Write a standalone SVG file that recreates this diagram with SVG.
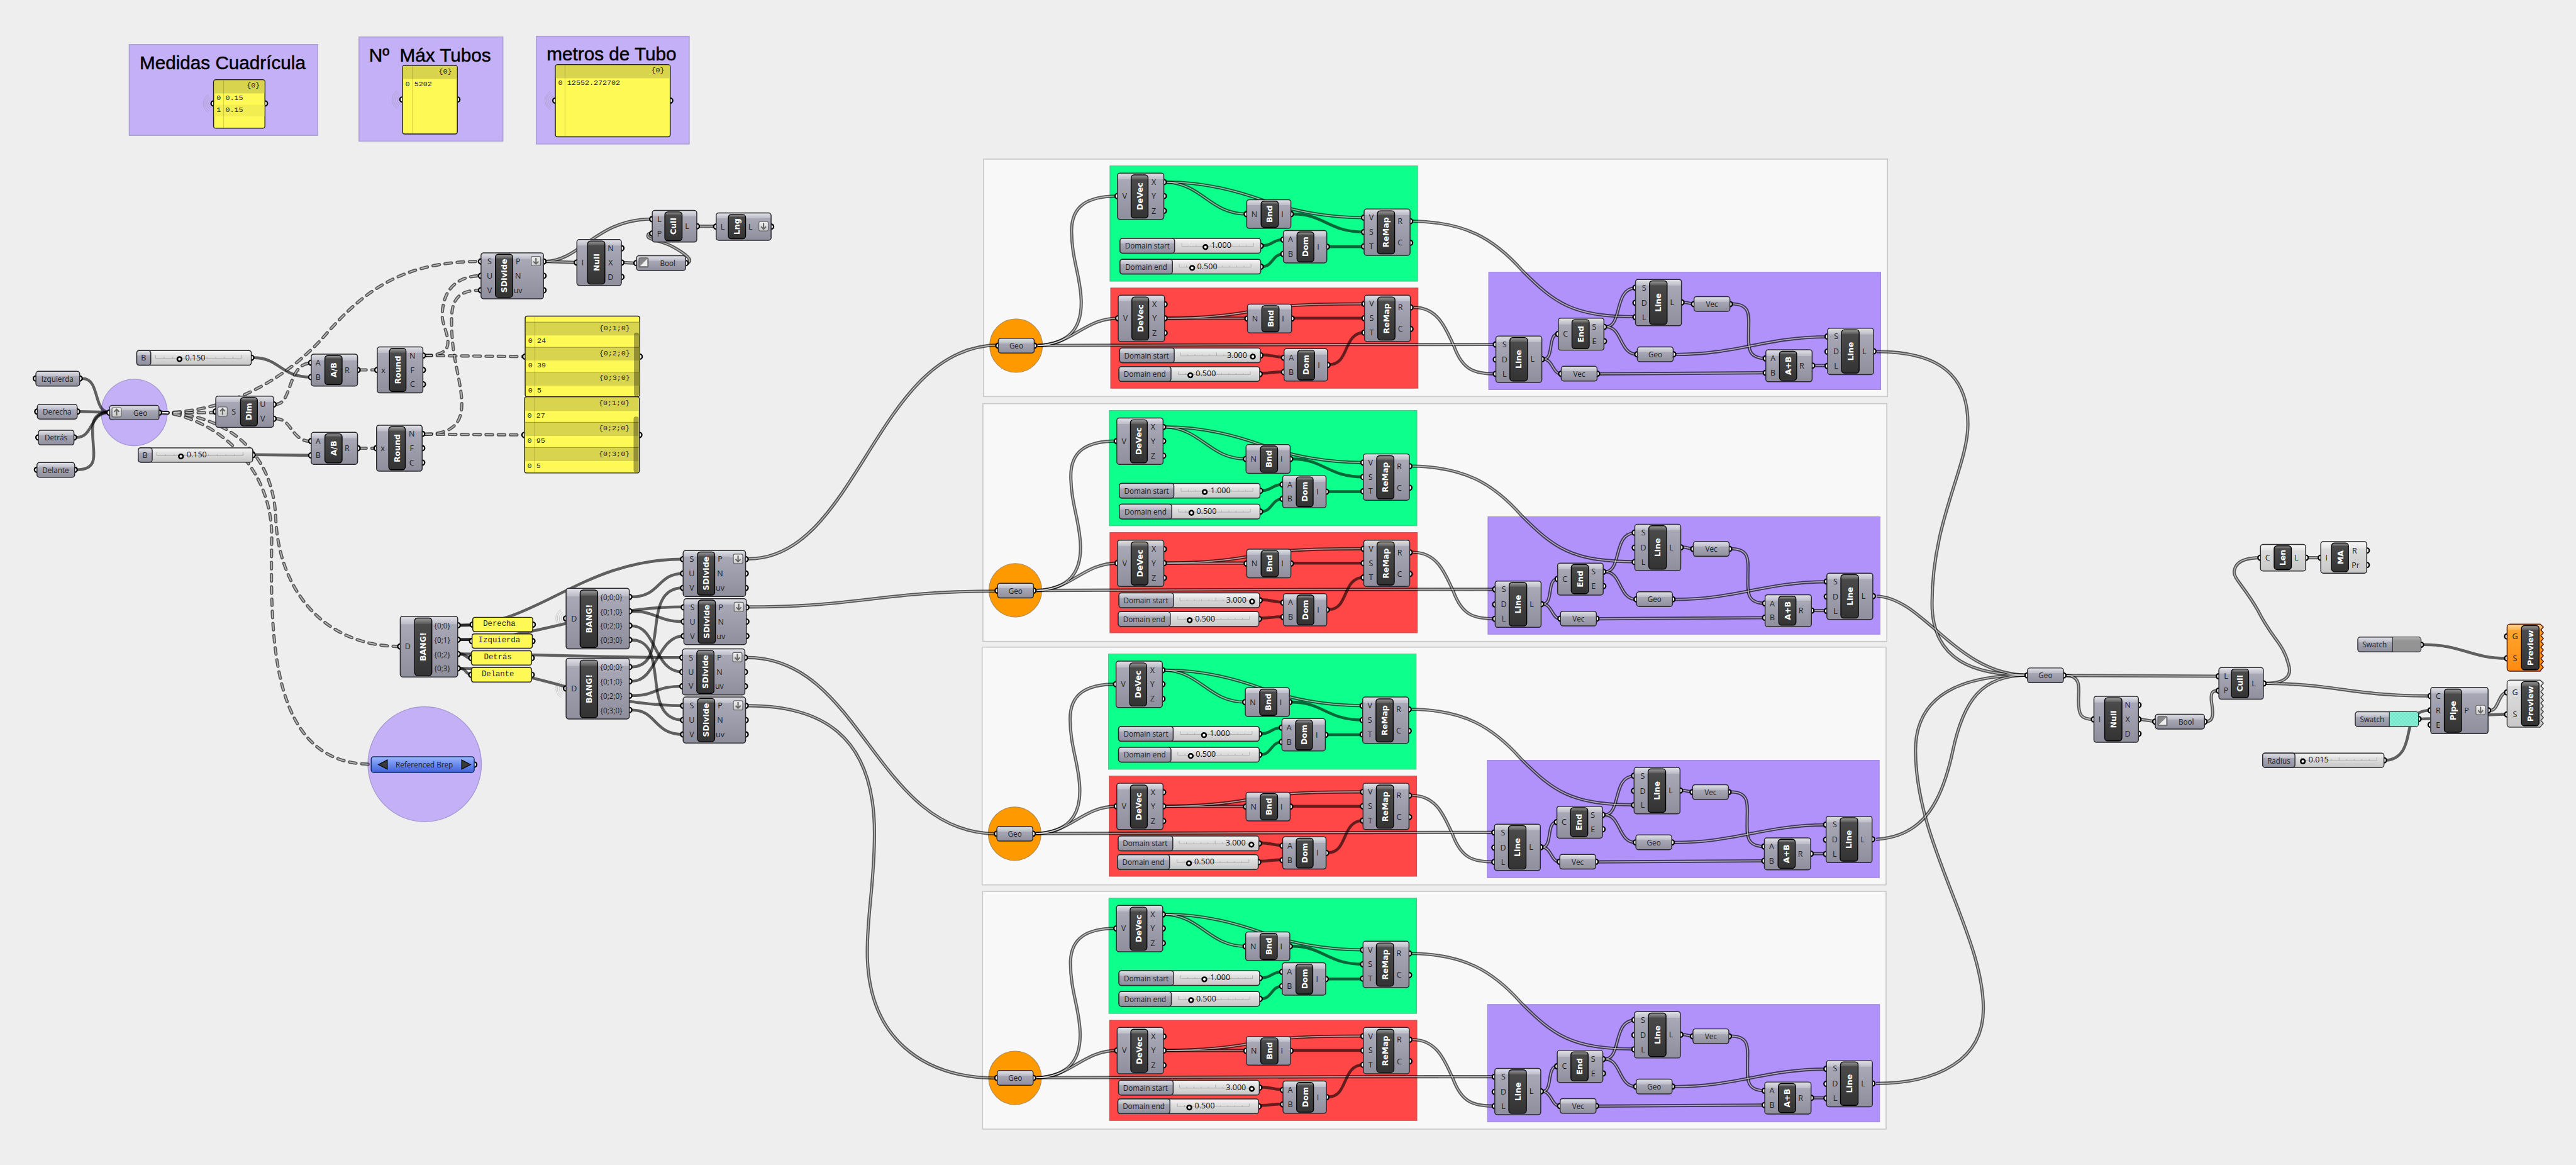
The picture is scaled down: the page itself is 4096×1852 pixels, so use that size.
<svg xmlns="http://www.w3.org/2000/svg" width="4096" height="1852" viewBox="0 0 4096 1852">
<style>
.b1,.b2,.b3,.bw,.bwm,.bo{stroke:#2a2a2e;stroke-width:2.6}
.b1{fill:url(#gB)}.b2{fill:url(#gM)}.b3{fill:url(#gS)}.bw{fill:url(#gW)}.bwm{fill:url(#gWm)}
.sl{fill:url(#gL);stroke:#2a2a2e;stroke-width:2.6}
.c{fill:url(#gC);stroke:#000;stroke-width:2.4}
.p{fill:#fff;stroke:#000;stroke-width:4}
.h{fill:#fff;stroke:#000;stroke-width:4.5}
.t{font:bold 22px "DejaVu Sans",sans-serif;fill:#fff;text-anchor:middle;dominant-baseline:central}
.l{font:400 20.5px "Open Sans",sans-serif;fill:#222;text-anchor:middle;dominant-baseline:central}
.q{font:400 22px "Open Sans",sans-serif;fill:#222;text-anchor:middle;dominant-baseline:central}
.v{font:400 22px "Open Sans",sans-serif;fill:#111;text-anchor:middle;dominant-baseline:central}
.m{font:20.5px "Liberation Mono",monospace;fill:#222;dominant-baseline:central}
.mr{font:20.5px "Liberation Mono",monospace;fill:#222;dominant-baseline:central;text-anchor:end}
.mc{font:21.5px "Liberation Mono",monospace;fill:#222;dominant-baseline:central;text-anchor:middle}
.ti{font:52px "Liberation Sans",sans-serif;fill:#000;stroke:#000;stroke-width:.9}
.y{fill:#fff955;stroke:#222;stroke-width:2.6}
.yh{fill:#d9d44e}.yr{fill:#f2ee52}
.ys{fill:#000;fill-opacity:.33}
.yg{stroke:#000;stroke-opacity:.16;stroke-width:2}
.yl{stroke:#000;stroke-opacity:.3;stroke-width:2}
.w{fill:none;stroke:#000;stroke-opacity:.6;stroke-width:8}
.wd{fill:none;stroke:#000;stroke-opacity:.63;stroke-width:9}
.wi{fill:none;stroke:#fff;stroke-opacity:.6;stroke-width:2.6}
.wx{fill:none;stroke:#000;stroke-opacity:.63;stroke-width:9;stroke-linecap:round;stroke-dasharray:18 16}
.wxi{fill:none;stroke:#fff;stroke-opacity:.6;stroke-width:3;stroke-linecap:round;stroke-dasharray:18 16}
.pn{fill:#f8f8f8;stroke:#cacaca;stroke-width:3}
.gg{fill:#0dff8c;stroke:#55c08c;stroke-width:2}
.gr{fill:#ff4747;stroke:#c65050;stroke-width:2}
.gp{fill:#b092fa;stroke:#a088e0;stroke-width:2}
.gl{fill:#c4b0f7;stroke:#a99cd4;stroke-width:2.5}
.go{fill:#ff9900;stroke:#b08a50;stroke-width:2}
.ib{fill:url(#gI);stroke:#666;stroke-width:2}
.ia{fill:none;stroke:#666;stroke-width:3.6}
.tk{fill:none;stroke:#aaa;stroke-width:1.5}
.ar{fill:none;stroke:#888;stroke-width:1;stroke-opacity:.6}
</style>
<defs>
<linearGradient id="gB" x2="0" y2="1"><stop offset="0" stop-color="#e2e2e8"/><stop offset=".13" stop-color="#bcbcc8"/><stop offset=".135" stop-color="#a8a8b6"/><stop offset="1" stop-color="#8e8e9c"/></linearGradient>
<linearGradient id="gM" x2="0" y2="1"><stop offset="0" stop-color="#e2e2e8"/><stop offset=".19" stop-color="#bcbcc8"/><stop offset=".195" stop-color="#a8a8b6"/><stop offset="1" stop-color="#8e8e9c"/></linearGradient>
<linearGradient id="gS" x2="0" y2="1"><stop offset="0" stop-color="#e2e2e8"/><stop offset=".34" stop-color="#bcbcc8"/><stop offset=".35" stop-color="#a8a8b6"/><stop offset="1" stop-color="#8e8e9c"/></linearGradient>
<linearGradient id="gW" x2="0" y2="1"><stop offset="0" stop-color="#f8f8f8"/><stop offset=".22" stop-color="#e4e4e4"/><stop offset=".225" stop-color="#dcdcdc"/><stop offset="1" stop-color="#c8c8c8"/></linearGradient>
<linearGradient id="gWm" x2="0" y2="1"><stop offset="0" stop-color="#f8f8f8"/><stop offset=".13" stop-color="#e8e8e8"/><stop offset=".135" stop-color="#dedede"/><stop offset="1" stop-color="#c8c8c8"/></linearGradient>
<linearGradient id="gL" x2="0" y2="1"><stop offset="0" stop-color="#f6f6f6"/><stop offset=".3" stop-color="#e6e6e6"/><stop offset=".31" stop-color="#e2e2e2"/><stop offset="1" stop-color="#c6c6c6"/></linearGradient>
<linearGradient id="gC" x2="0" y2="1"><stop offset="0" stop-color="#9c9c9c"/><stop offset=".1" stop-color="#5a5a5a"/><stop offset=".105" stop-color="#4a4a4a"/><stop offset="1" stop-color="#333"/></linearGradient>
<linearGradient id="gI" x2="0" y2="1"><stop offset="0" stop-color="#f0f0f0"/><stop offset="1" stop-color="#c8c8c8"/></linearGradient>
<linearGradient id="gBl" x2="0" y2="1"><stop offset="0" stop-color="#a0bcff"/><stop offset=".3" stop-color="#7d9cf4"/><stop offset="1" stop-color="#3f62dc"/></linearGradient>
<linearGradient id="gO" x2="0" y2="1"><stop offset="0" stop-color="#ffd89a"/><stop offset=".13" stop-color="#ffb04a"/><stop offset=".135" stop-color="#ffa52c"/><stop offset="1" stop-color="#ff8a10"/></linearGradient>
<linearGradient id="gG" x2="0" y2="1"><stop offset="0" stop-color="#b0b0b0"/><stop offset=".25" stop-color="#959595"/><stop offset="1" stop-color="#929292"/></linearGradient>
<pattern id="chk" width="10" height="10" patternUnits="userSpaceOnUse"><rect width="10" height="10" fill="#8aeed6"/><rect width="5" height="5" fill="#74e6ca"/><rect x="5" y="5" width="5" height="5" fill="#74e6ca"/></pattern>
<g id="i-dn"><rect class="ib" width="26" height="26" rx="4"/><path class="ia" d="M13 4V21M6 14L13 21L20 14"/></g>
<g id="i-up"><rect class="ib" width="26" height="26" rx="4"/><path class="ia" d="M13 22V5M6 12L13 5L20 12"/></g>
<g id="i-bl"><rect class="ib" width="26" height="26" rx="4" style="fill:#888"/><path d="M3 23L23 3V23Z" fill="#eee"/></g>
<g id="i-arc"><path class="ar" d="M-7-12A14 14 0 0 0-7 12M-9.5-16.5A19 19 0 0 0-9.5 16.5M-12-21A24 24 0 0 0-12 21M-14.5-25A29 29 0 0 0-14.5 25"/></g>
<path id="tr" class="tk" d="M0 0H200M0-9V0M20-4V0M40-4V0M60-4V0M80-4V0M100-9V0M120-4V0M140-4V0M160-4V0M180-4V0M200-9V0"/>
<g id="n-3"><circle class="p" cy="64" r="7"/><circle class="p" cx="129" cy="25" r="7"/><circle class="p" cx="129" cy="64" r="7"/><circle class="p" cx="129" cy="105" r="7"/><rect class="b1" width="129" height="129" rx="7"/><rect class="c" x="38" y="5" width="47" height="120" rx="8"/></g>
<g id="n-remap"><circle class="p" cy="24" r="7"/><circle class="p" cy="64" r="7"/><circle class="p" cy="104" r="7"/><circle class="p" cx="128" cy="34" r="7"/><circle class="p" cx="128" cy="94" r="7"/><rect class="b1" width="128" height="129" rx="7"/><rect class="c" x="37" y="5" width="48" height="120" rx="8"/></g>
<g id="n-line"><circle class="p" cy="23" r="7"/><circle class="p" cy="65" r="7"/><circle class="p" cy="105" r="7"/><circle class="p" cx="128" cy="64" r="7"/><rect class="b1" width="128" height="129" rx="7"/><rect class="c" x="39" y="4" width="49" height="121" rx="8"/></g>
<g id="n-bnd"><circle class="p" cy="40" r="7"/><circle class="p" cx="123" cy="40" r="7"/><rect class="b2" width="123" height="80" rx="7"/><rect class="c" x="40" y="4" width="48" height="73" rx="8"/></g>
<g id="n-dom"><circle class="p" cy="25" r="7"/><circle class="p" cy="65" r="7"/><circle class="p" cx="121" cy="45" r="7"/><rect class="b2" width="121" height="90" rx="7"/><rect class="c" x="38" y="4" width="47" height="83" rx="8"/></g>
<g id="n-end"><circle class="p" cy="44" r="7"/><circle class="p" cx="127" cy="24" r="7"/><circle class="p" cx="127" cy="64" r="7"/><rect class="b2" width="127" height="89" rx="7"/><rect class="c" x="38" y="4" width="48" height="81" rx="8"/></g>
<g id="n-m"><circle class="p" cy="24" r="7"/><circle class="p" cy="64" r="7"/><circle class="p" cx="129" cy="44" r="7"/><rect class="b2" width="129" height="89" rx="7"/><rect class="c" x="38" y="4" width="48" height="81" rx="8"/></g>
<g id="n-p"><circle class="p" cy="20.5" r="7"/><circle class="p" cx="100" cy="20.5" r="7"/><rect class="b3" width="100" height="41" rx="7"/></g>
<g id="n-sl"><circle class="p" cx="392" cy="20.5" r="7"/><rect class="sl" width="392" height="41" rx="7"/></g>
<g id="n-sd"><circle class="p" cy="24" r="7"/><circle class="p" cy="64" r="7"/><circle class="p" cy="104" r="7"/><circle class="p" cx="174" cy="24" r="7"/><circle class="p" cx="174" cy="64" r="7"/><circle class="p" cx="174" cy="104" r="7"/><rect class="b1" width="174" height="128" rx="7"/><rect class="c" x="40" y="4" width="48" height="120" rx="8"/><use href="#i-dn" x="140" y="10"/></g>
<g id="n-null"><circle class="p" cy="64" r="7"/><circle class="p" cx="124" cy="24" r="7"/><circle class="p" cx="124" cy="64" r="7"/><circle class="p" cx="124" cy="104" r="7"/><rect class="b1" width="124" height="128" rx="7"/><rect class="c" x="30" y="4" width="48" height="120" rx="8"/></g>
<g id="n-bool"><circle class="p" cy="20.5" r="7"/><circle class="p" cx="137" cy="20.5" r="7"/><rect class="b3" width="137" height="41" rx="7"/><use href="#i-bl" x="7" y="6"/></g>
<g id="n-cull"><circle class="p" cy="24" r="7"/><circle class="p" cy="64" r="7"/><circle class="p" cx="124" cy="44" r="7"/><rect class="b2" width="124" height="88" rx="7"/><rect class="c" x="35" y="4" width="48" height="80" rx="8"/></g>
<g id="n-ba"><circle class="p" cy="84" r="7"/><circle class="p" cx="176" cy="24" r="7"/><circle class="p" cx="176" cy="64" r="7"/><circle class="p" cx="176" cy="104" r="7"/><circle class="p" cx="176" cy="144" r="7"/><rect class="b1" width="176" height="169" rx="7"/><rect class="c" x="39" y="5" width="49" height="160" rx="8"/></g>
<g id="sd">
<path d="M150 519C240 515 272 470 272 400C272 330 245 280 245 200C245 130 290 103 373 103"/>
<path d="M150 519C245 519 280 443 375 443"/>
<path d="M150 519C600 517 1000 516 1427 516"/>
<path d="M1196 173C1340 175 1420 220 1500 310C1590 400 1640 439 1816 439"/>
<path d="M1198 413C1270 413 1290 480 1310 520C1335 590 1370 598 1427 598"/>
<path d="M1560 557C1590 557 1570 487 1601 487"/>
<path d="M1560 557C1585 557 1585 598 1609 598"/>
<path d="M1734 467C1780 467 1755 359 1816 359"/>
<path d="M1734 467C1780 467 1770 544 1821 544"/>
<path d="M1950 399C1965 399 1965 403 1979 403"/>
<path d="M2084 403C2140 403 2131 440 2131 480C2131 520 2125 555 2179 555"/>
<path d="M1927 544C2100 544 2180 495 2351 495"/>
<path d="M1715 598L2179 595"/>
<path d="M2314 575H2351"/>
<path d="M508 64C610 68 630 153 733 153"/>
<path d="M508 64C620 64 710 90 780 115C860 145 960 163 1060 163"/>
<path d="M510 443H735"/>
<path d="M510 443C640 443 720 430 780 417C860 403 980 403 1061 403"/>
</g>
<g id="ss">
<path d="M862 153C950 153 960 203 1060 203"/>
<path d="M778 241C805 241 805 224 835 224"/>
<path d="M778 299C805 299 805 264 835 264"/>
<path d="M962 244H1060"/>
<path d="M864 443H1061"/>
<path d="M776 545C800 545 815 552 837 552"/>
<path d="M775 596C800 596 815 592 837 592"/>
<path d="M964 572C1020 572 1000 483 1061 483"/>
</g>
<g id="sbg">
<rect class="gg" x="352" y="19" width="857" height="321"/>
<rect class="gr" x="354" y="359" width="856" height="279"/>
<rect class="gp" x="1407" y="315" width="1092" height="327"/>
<ellipse class="go" cx="90.5" cy="519.5" rx="73.5" ry="74.5"/>
</g>
</defs>
<rect width="4096" height="1852" fill="#eeeeee"/>
<g transform="scale(.5708 .5709)">

<g id="groups">
<rect class="gl" x="360" y="124" width="525" height="253"/>
<text class="ti" x="389" y="192">Medidas Cuadrícula</text>
<rect class="gl" x="1000" y="103" width="401" height="290"/>
<text class="ti" x="1028" y="171">Nº&#160; Máx Tubos</text>
<rect class="gl" x="1494" y="101" width="426" height="300"/>
<text class="ti" x="1523" y="168">metros de Tubo</text>
<ellipse class="gl" cx="374" cy="1148.5" rx="92" ry="92.5"/>
<ellipse class="gl" cx="1183" cy="2128" rx="158" ry="160"/>
</g>

<g id="section-backgrounds">
<g transform="translate(2740 443)"><rect class="pn" width="2518" height="661"/><use href="#sbg"/></g>
<g transform="translate(2738 1124)"><rect class="pn" width="2518" height="662"/><use href="#sbg"/></g>
<g transform="translate(2736 1802)"><rect class="pn" width="2518" height="662"/><use href="#sbg"/></g>
<g transform="translate(2737 2482)"><rect class="pn" width="2517" height="662"/><use href="#sbg"/></g>
</g>

<g id="connectors">
<g transform="translate(2740 443)"><use href="#sd" class="wd"/><use href="#sd" class="wi"/><use href="#ss" class="w"/></g>
<g transform="translate(2738 1125)"><use href="#sd" class="wd"/><use href="#sd" class="wi"/><use href="#ss" class="w"/></g>
<g transform="translate(2736 1802)"><use href="#sd" class="wd"/><use href="#sd" class="wi"/><use href="#ss" class="w"/></g>
<g transform="translate(2737 2482)"><use href="#sd" class="wd"/><use href="#sd" class="wi"/><use href="#ss" class="w"/></g>
<g class="w" id="single-wires">
<path d="M230 1054C280 1054 258 1148 305 1148"/>
<path d="M222 1146L305 1148"/>
<path d="M214 1218C260 1218 250 1148 305 1148"/>
<path d="M214 1308C270 1308 262 1270 260 1240C258 1200 245 1148 305 1148"/>
<path d="M706 996C780 996 780 1050 867 1050"/>
<path d="M712 1266L867 1268"/>
<path d="M1282 1741H1317"/>
<path d="M1282 1781H1315"/>
<path d="M1282 1821C1300 1821 1295 1833 1313 1833"/>
<path d="M1282 1861C1300 1861 1295 1878 1313 1878"/>
<path d="M1282 1741C1500 1741 1620 1557 1903 1557"/>
<path d="M1282 1781C1500 1781 1650 1690 1905 1690"/>
<path d="M1282 1821C1500 1821 1650 1831 1901 1831"/>
<path d="M1282 1861C1500 1861 1650 1965 1903 1965"/>
<path d="M1760 1662C1840 1662 1830 1597 1903 1597"/>
<path d="M1760 1702C1830 1702 1830 1731 1905 1731"/>
<path d="M1760 1743C1830 1743 1820 1871 1901 1871"/>
<path d="M1760 1782C1870 1782 1780 2005 1903 2005"/>
<path d="M1760 1857C1870 1857 1780 1637 1903 1637"/>
<path d="M1760 1897C1830 1897 1830 1771 1905 1771"/>
<path d="M1760 1937C1830 1937 1820 1911 1901 1911"/>
<path d="M1760 1977C1830 1977 1820 2045 1903 2045"/>
<path d="M6751 1795C6860 1795 6880 1833 6984 1833"/>
<path d="M6737 2002C6850 2002 6900 1989 6984 1989"/>
<path d="M6649 2117C6710 2110 6705 2040 6715 2020C6725 1985 6745 1978 6771 1978"/>
</g>
<g class="wd"><g id="dw">
<path d="M2085 1556C2390 1556 2440 961 2781 961"/>
<path d="M2087 1690C2400 1690 2450 1646 2779 1646"/>
<path d="M2083 1831C2400 1831 2440 2322 2777 2322"/>
<path d="M2085 1965C2280 1965 2436 2040 2436 2320C2436 2460 2416 2540 2416 2650C2416 2890 2570 3002 2778 3002"/>
<path d="M5228 979C5440 979 5482 1080 5482 1181C5482 1300 5382 1450 5382 1680C5382 1840 5500 1880 5648 1880"/>
<path d="M5228 1660C5360 1665 5450 1880 5648 1880"/>
<path d="M5226 2337C5360 2330 5410 2230 5440 2090C5470 1950 5520 1880 5648 1880"/>
<path d="M5226 3017C5400 3017 5525 2950 5525 2809C5525 2600 5336 2350 5336 2090C5336 1930 5470 1880 5648 1880"/>
<path d="M5755 1881L6181 1883"/>
<path d="M5755 1881C5800 1881 5790 1920 5790 1950C5790 1990 5795 2003 5833 2003"/>
<path d="M5963 2003L6004 2009"/>
<path d="M6146 2009C6175 2009 6160 1960 6160 1950C6158 1925 6165 1923 6181 1923"/>
<path d="M6310 1903C6370 1903 6385 1880 6375 1850C6360 1790 6330 1780 6290 1700C6250 1630 6220 1610 6224 1590C6228 1560 6260 1553 6297 1553"/>
<path d="M6310 1903C6500 1903 6550 1938 6771 1938"/>
<path d="M6428 1553H6465"/>
<path d="M6938 1978C6960 1978 6960 1928 6984 1928"/>
<path d="M1520 728L1607 731"/>
<path d="M1520 728C1620 725 1660 610 1817 610"/>
<path d="M1737 731L1773 733"/>
<path d="M1916 732C1930 725 1915 710 1876 688C1840 668 1800 668 1805 655C1806 650 1810 650 1817 650"/>
<path d="M1946 630H1995"/>
</g></g>
<use href="#dw" class="wi"/>
<g class="wx"><g id="xw">
<path d="M450 1149H601"/>
<path d="M450 1149C640 1149 800 1050 900 940C1020 800 1130 728 1340 728"/>
<path d="M768 1126C815 1126 800 1011 867 1011"/>
<path d="M768 1166C815 1166 810 1229 867 1229"/>
<path d="M450 1150C620 1150 760 1250 768 1440C775 1640 900 1800 1115 1800"/>
<path d="M450 1148C590 1160 760 1290 757 1500C752 1800 760 2128 1034 2128"/>
<path d="M1002 1030H1051"/>
<path d="M1002 1248H1049"/>
<path d="M1184 990L1463 993"/>
<path d="M1184 1209L1461 1211"/>
<path d="M1184 990C1290 990 1232 920 1232 880C1232 810 1270 768 1340 768"/>
<path d="M1184 1209C1270 1209 1290 1170 1286 1110C1280 1040 1257 990 1258 890C1258 830 1280 808 1340 808"/>
</g></g>
<use href="#xw" class="wxi"/>
</g>

<g id="panel-medidas"><use href="#i-arc" x="595" y="288"/><circle class="p" cx="595" cy="288" r="7"/><circle class="p" cx="738" cy="288" r="7"/><rect class="y" x="595" y="222" width="143" height="135" rx="6"/><rect class="yh" x="596.5" y="224" width="140" height="36"/><rect class="yr" x="596.5" y="292" width="140" height="32"/><path class="yg" d="M623 224V355"/><text class="mr" x="724" y="239">{0}</text><text class="m" x="603" y="274">0</text><text class="m" x="628" y="274">0.15</text><text class="m" x="603" y="306">1</text><text class="m" x="628" y="306">0.15</text></g>
<g id="panel-tubos"><use href="#i-arc" x="1121" y="277"/><circle class="p" cx="1121" cy="277" r="7"/><circle class="p" cx="1274" cy="277" r="7"/><rect class="y" x="1121" y="182" width="153" height="191" rx="6"/><rect class="yh" x="1122.5" y="184" width="150" height="36"/><path class="yg" d="M1149 184V371"/><text class="mr" x="1259" y="199">{0}</text><text class="m" x="1129" y="234">0</text><text class="m" x="1154" y="234">5202</text></g>
<g id="panel-metros"><use href="#i-arc" x="1547" y="280"/><circle class="p" cx="1547" cy="280" r="7"/><circle class="p" cx="1867" cy="280" r="7"/><rect class="y" x="1547" y="180" width="320" height="201" rx="6"/><rect class="yh" x="1548.5" y="182" width="317" height="36"/><path class="yg" d="M1574 182V379"/><text class="mr" x="1851" y="197">{0}</text><text class="m" x="1555" y="232">0</text><text class="m" x="1580" y="232">12552.272702</text></g>

<g id="p-izquierda" transform="translate(100 1034)"><circle class="p" cy="20" r="7"/><circle class="p" cx="122" cy="20" r="7"/><rect class="b3" width="122" height="41" rx="7"/><text class="l" x="60" y="20">Izquierda</text></g>
<g id="p-derecha" transform="translate(104 1126)"><circle class="p" cy="20" r="7"/><circle class="p" cx="111" cy="20" r="7"/><rect class="b3" width="111" height="41" rx="7"/><text class="l" x="55" y="20">Derecha</text></g>
<g id="p-detras" transform="translate(107 1198)"><circle class="p" cy="20" r="7"/><circle class="p" cx="99" cy="20" r="7"/><rect class="b3" width="99" height="41" rx="7"/><text class="l" x="49" y="20">Detrás</text></g>
<g id="p-delante" transform="translate(103 1288)"><circle class="p" cy="20" r="7"/><circle class="p" cx="105" cy="20" r="7"/><rect class="b3" width="105" height="41" rx="7"/><text class="l" x="52" y="20">Delante</text></g>
<g id="p-geo-main" transform="translate(305 1129)"><circle class="p" cy="20" r="7"/><circle class="p" cx="138" cy="20" r="7"/><rect class="b3" width="138" height="40" rx="7"/><use href="#i-up" x="7" y="6"/><text class="l" x="86" y="20">Geo</text></g>
<g id="c-dim" transform="translate(601 1103)"><circle class="p" cy="43" r="7"/><circle class="p" cx="161" cy="23" r="7"/><circle class="p" cx="161" cy="63" r="7"/><rect class="b2" width="161" height="87" rx="7"/><rect class="c" x="69" y="4" width="47" height="79" rx="8"/><use href="#i-up" x="6" y="30"/><text class="t" transform="translate(92.5 43) rotate(-90)">Dim</text><text class="q" x="50" y="43">S</text><text class="q" x="131" y="23">U</text><text class="q" x="131" y="63">V</text></g>

<g id="s-b1" transform="translate(381 976)"><circle class="p" cx="319" cy="20" r="7"/><rect class="sl" width="319" height="41" rx="7"/><rect class="b3" width="39" height="41" rx="7"/><use href="#tr" transform="translate(52 22) scale(1.2 1)"/><circle class="h" cx="119" cy="24" r="6"/><text class="v" x="163" y="19">0.150</text><text class="q" x="19" y="20">B</text></g>
<g id="s-b2" transform="translate(385 1247)"><circle class="p" cx="319" cy="20" r="7"/><rect class="sl" width="319" height="40" rx="7"/><rect class="b3" width="39" height="40" rx="7"/><use href="#tr" transform="translate(52 22) scale(1.2 1)"/><circle class="h" cx="119" cy="24" r="6"/><text class="v" x="163" y="19">0.150</text><text class="q" x="19" y="20">B</text></g>
<g id="c-div1" transform="translate(867 986)"><use href="#n-m"/><text class="t" transform="translate(62 44) rotate(-90)">A/B</text><text class="q" x="19" y="24">A</text><text class="q" x="19" y="64">B</text><text class="q" x="100" y="44">R</text></g>
<g id="c-div2" transform="translate(867 1204)"><use href="#n-m"/><text class="t" transform="translate(62 44) rotate(-90)">A/B</text><text class="q" x="19" y="24">A</text><text class="q" x="19" y="64">B</text><text class="q" x="100" y="44">R</text></g>
<g id="c-round1" transform="translate(1051 966)"><circle class="p" cy="64" r="7"/><circle class="p" cx="127" cy="24" r="7"/><circle class="p" cx="127" cy="64" r="7"/><circle class="p" cx="127" cy="104" r="7"/><rect class="b1" width="127" height="128" rx="7"/><rect class="c" x="34" y="4" width="46" height="120" rx="8"/><text class="t" transform="translate(57 64) rotate(-90)">Round</text><text class="q" x="17" y="64">x</text><text class="q" x="98" y="24">N</text><text class="q" x="98" y="64">F</text><text class="q" x="98" y="104">C</text></g>
<g id="c-round2" transform="translate(1049 1184)"><circle class="p" cy="64" r="7"/><circle class="p" cx="127" cy="24" r="7"/><circle class="p" cx="127" cy="64" r="7"/><circle class="p" cx="127" cy="104" r="7"/><rect class="b1" width="127" height="128" rx="7"/><rect class="c" x="34" y="4" width="46" height="120" rx="8"/><text class="t" transform="translate(57 64) rotate(-90)">Round</text><text class="q" x="17" y="64">x</text><text class="q" x="98" y="24">N</text><text class="q" x="98" y="64">F</text><text class="q" x="98" y="104">C</text></g>

<g id="panel-a"><circle class="p" cx="1463" cy="993" r="7"/><circle class="p" cx="1782" cy="993" r="7"/><rect class="y" x="1463" y="880" width="319" height="225" rx="6"/><rect class="yh" x="1464.5" y="897" width="316" height="37"/><rect class="yh" x="1464.5" y="967" width="316" height="37"/><rect class="yh" x="1464.5" y="1036" width="316" height="38"/><path class="yg" d="M1490 882V1103"/><path class="yl" d="M1465 897H1780M1465 967H1780M1465 1036H1780"/><rect class="ys" x="1766" y="926" width="14" height="177" rx="6"/><text class="mr" x="1755" y="914">{0;1;0}</text><text class="m" x="1471" y="949">0</text><text class="m" x="1496" y="949">24</text><text class="mr" x="1755" y="984">{0;2;0}</text><text class="m" x="1471" y="1018">0</text><text class="m" x="1496" y="1018">39</text><text class="mr" x="1755" y="1053">{0;3;0}</text><text class="m" x="1471" y="1088">0</text><text class="m" x="1496" y="1088">5</text></g>
<g id="panel-b"><circle class="p" cx="1461" cy="1211" r="7"/><circle class="p" cx="1781" cy="1211" r="7"/><rect class="y" x="1461" y="1105" width="320" height="212" rx="6"/><rect class="yh" x="1462.5" y="1107" width="317" height="37"/><rect class="yh" x="1462.5" y="1176" width="317" height="38"/><rect class="yh" x="1462.5" y="1246" width="317" height="38"/><path class="yg" d="M1489 1107V1315"/><path class="yl" d="M1463 1176H1779M1463 1246H1779"/><rect class="ys" x="1765" y="1160" width="14" height="155" rx="6"/><text class="mr" x="1754" y="1123">{0;1;0}</text><text class="m" x="1469" y="1158">0</text><text class="m" x="1494" y="1158">27</text><text class="mr" x="1754" y="1193">{0;2;0}</text><text class="m" x="1469" y="1228">0</text><text class="m" x="1494" y="1228">95</text><text class="mr" x="1754" y="1264">{0;3;0}</text><text class="m" x="1469" y="1298">0</text><text class="m" x="1494" y="1298">5</text></g>

<g id="c-sdivide0" transform="translate(1340 704)"><use href="#n-sd"/><text class="t" transform="translate(64 64) rotate(-90)">SDivide</text><text class="q" x="24" y="24">S</text><text class="q" x="24" y="64">U</text><text class="q" x="24" y="104">V</text><text class="q" x="103" y="24">P</text><text class="q" x="103" y="64">N</text><text class="q" x="103" y="104">uv</text></g>
<g id="c-null0" transform="translate(1607 667)"><use href="#n-null"/><text class="t" transform="translate(54 64) rotate(-90)">Null</text><text class="q" x="16" y="64">I</text><text class="q" x="94" y="24">N</text><text class="q" x="94" y="64">X</text><text class="q" x="94" y="104">D</text></g>
<g id="p-bool0" transform="translate(1773 712)"><use href="#n-bool"/><text class="l" x="87" y="20">Bool</text></g>
<g id="c-cull0" transform="translate(1817 586)"><use href="#n-cull"/><text class="t" transform="translate(59 44) rotate(-90)">Cull</text><text class="q" x="20" y="24">L</text><text class="q" x="20" y="64">P</text><text class="q" x="97" y="44">L</text></g>
<g id="c-lng" transform="translate(1995 593)"><circle class="p" cy="38" r="7"/><circle class="p" cx="153" cy="38" r="7"/><rect class="b2" width="153" height="76" rx="7"/><rect class="c" x="34" y="4" width="48" height="68" rx="8"/><use href="#i-dn" x="119" y="24"/><text class="t" transform="translate(58 38) rotate(-90)">Lng</text><text class="q" x="18" y="38">L</text><text class="q" x="95" y="38">L</text></g>

<g id="c-bang1" transform="translate(1115 1716)"><circle class="p" cy="84" r="7"/><circle class="p" cx="160" cy="25" r="7"/><circle class="p" cx="160" cy="65" r="7"/><circle class="p" cx="160" cy="105" r="7"/><circle class="p" cx="160" cy="145" r="7"/><rect class="b1" width="160" height="169" rx="7"/><rect class="c" x="40" y="5" width="48" height="160" rx="8"/><text class="t" transform="translate(64 85) rotate(-90)">BANG!</text><text class="q" x="21" y="84">D</text><text class="l" x="117" y="25">{0;0}</text><text class="l" x="117" y="65">{0;1}</text><text class="l" x="117" y="105">{0;2}</text><text class="l" x="117" y="145">{0;3}</text></g>
<g id="n-derecha" transform="translate(1317 1719)"><circle class="p" cy="20" r="7"/><circle class="p" cx="167" cy="20" r="7"/><rect class="y" width="167" height="40" rx="6"/><text class="mc" x="74" y="19">Derecha</text></g>
<g id="n-izquierda" transform="translate(1315 1765)"><circle class="p" cy="20" r="7"/><circle class="p" cx="168" cy="20" r="7"/><rect class="y" width="168" height="40" rx="6"/><text class="mc" x="76" y="18">Izquierda</text></g>
<g id="n-detras" transform="translate(1313 1812)"><circle class="p" cy="20" r="7"/><circle class="p" cx="168" cy="20" r="7"/><rect class="y" width="168" height="40" rx="6"/><text class="mc" x="74" y="19">Detrás</text></g>
<g id="n-delante" transform="translate(1313 1859)"><circle class="p" cy="20" r="7"/><circle class="p" cx="168" cy="20" r="7"/><rect class="y" width="168" height="40" rx="6"/><text class="mc" x="74" y="18">Delante</text></g>
<g id="c-bang2" transform="translate(1577 1638)"><use href="#i-arc" y="84"/><use href="#n-ba"/><text class="t" transform="translate(63.5 85) rotate(-90)">BANG!</text><text class="q" x="22" y="84">D</text><text class="l" x="126" y="24">{0;0;0}</text><text class="l" x="126" y="64">{0;1;0}</text><text class="l" x="126" y="104">{0;2;0}</text><text class="l" x="126" y="144">{0;3;0}</text></g>
<g id="c-bang3" transform="translate(1577 1833)"><use href="#i-arc" y="84"/><use href="#n-ba"/><text class="t" transform="translate(63.5 85) rotate(-90)">BANG!</text><text class="q" x="22" y="84">D</text><text class="l" x="126" y="24">{0;0;0}</text><text class="l" x="126" y="64">{0;1;0}</text><text class="l" x="126" y="104">{0;2;0}</text><text class="l" x="126" y="144">{0;3;0}</text></g>
<g id="c-sdivide1" transform="translate(1903 1533)"><use href="#n-sd"/><text class="t" transform="translate(64 64) rotate(-90)">SDivide</text><text class="q" x="24" y="24">S</text><text class="q" x="24" y="64">U</text><text class="q" x="24" y="104">V</text><text class="q" x="103" y="24">P</text><text class="q" x="103" y="64">N</text><text class="q" x="103" y="104">uv</text></g>
<g id="c-sdivide2" transform="translate(1905 1667)"><use href="#n-sd"/><text class="t" transform="translate(64 64) rotate(-90)">SDivide</text><text class="q" x="24" y="24">S</text><text class="q" x="24" y="64">U</text><text class="q" x="24" y="104">V</text><text class="q" x="103" y="24">P</text><text class="q" x="103" y="64">N</text><text class="q" x="103" y="104">uv</text></g>
<g id="c-sdivide3" transform="translate(1901 1807)"><use href="#n-sd"/><text class="t" transform="translate(64 64) rotate(-90)">SDivide</text><text class="q" x="24" y="24">S</text><text class="q" x="24" y="64">U</text><text class="q" x="24" y="104">V</text><text class="q" x="103" y="24">P</text><text class="q" x="103" y="64">N</text><text class="q" x="103" y="104">uv</text></g>
<g id="c-sdivide4" transform="translate(1903 1941)"><use href="#n-sd"/><text class="t" transform="translate(64 64) rotate(-90)">SDivide</text><text class="q" x="24" y="24">S</text><text class="q" x="24" y="64">U</text><text class="q" x="24" y="104">V</text><text class="q" x="103" y="24">P</text><text class="q" x="103" y="64">N</text><text class="q" x="103" y="104">uv</text></g>
<g id="p-brep" transform="translate(1034 2107)"><circle class="p" cx="287" cy="22" r="7"/><rect width="287" height="44" rx="7" fill="url(#gBl)" stroke="#0c2a66" stroke-width="2.6"/><path d="M45 9V35L20 22Z M252 9V35L277 22Z" fill="#3a3a3a" stroke="#000" stroke-width="2"/><text class="l" x="148" y="22">Referenced Brep</text></g>

<g id="section-1" transform="translate(2740 443)">
<g id="s1-geo" transform="translate(41 499)"><use href="#n-p"/><text class="l" x="50" y="20">Geo</text></g>
<g id="s1-g-devec" transform="translate(373 39)"><use href="#n-3"/><text class="t" transform="translate(61.5 64.5) rotate(-90)">DeVec</text><text class="q" x="20" y="64">V</text><text class="q" x="101" y="25">X</text><text class="q" x="101" y="64">Y</text><text class="q" x="101" y="105">Z</text></g>
<g id="s1-g-bnd" transform="translate(733 113)"><use href="#n-bnd"/><text class="t" transform="translate(64 40) rotate(-90)">Bnd</text><text class="q" x="21" y="40">N</text><text class="q" x="99" y="40">I</text></g>
<g id="s1-g-remap" transform="translate(1060 139)"><use href="#n-remap"/><text class="t" transform="translate(61 65) rotate(-90)">ReMap</text><text class="q" x="20" y="24">V</text><text class="q" x="20" y="64">S</text><text class="q" x="20" y="104">T</text><text class="q" x="100" y="34">R</text><text class="q" x="100" y="94">C</text></g>
<g id="s1-g-start" transform="translate(380 221)"><use href="#n-sl"/><rect class="b3" width="152" height="41" rx="7"/><use href="#tr" transform="translate(172 22)"/><circle class="h" cx="238" cy="24" r="6"/><text class="v" x="282" y="19">1.000</text><text class="l" x="76" y="20">Domain start</text></g>
<g id="s1-g-end" transform="translate(380 279)"><use href="#n-sl"/><rect class="b3" width="146" height="41" rx="7"/><use href="#tr" transform="translate(165 22)"/><circle class="h" cx="201" cy="24" r="6"/><text class="v" x="243" y="19">0.500</text><text class="l" x="73" y="20">Domain end</text></g>
<g id="s1-g-dom" transform="translate(835 199)"><use href="#n-dom"/><text class="t" transform="translate(61.5 45) rotate(-90)">Dom</text><text class="q" x="20" y="25">A</text><text class="q" x="20" y="65">B</text><text class="q" x="97" y="45">I</text></g>
<g id="s1-r-devec" transform="translate(375 379)"><use href="#n-3"/><text class="t" transform="translate(61.5 64.5) rotate(-90)">DeVec</text><text class="q" x="20" y="64">V</text><text class="q" x="101" y="25">X</text><text class="q" x="101" y="64">Y</text><text class="q" x="101" y="105">Z</text></g>
<g id="s1-r-bnd" transform="translate(735 404)"><use href="#n-bnd"/><text class="t" transform="translate(64 40) rotate(-90)">Bnd</text><text class="q" x="21" y="40">N</text><text class="q" x="99" y="40">I</text></g>
<g id="s1-r-remap" transform="translate(1061 379)"><use href="#n-remap"/><text class="t" transform="translate(61 65) rotate(-90)">ReMap</text><text class="q" x="20" y="24">V</text><text class="q" x="20" y="64">S</text><text class="q" x="20" y="104">T</text><text class="q" x="100" y="34">R</text><text class="q" x="100" y="94">C</text></g>
<g id="s1-r-start" transform="translate(379 526)"><use href="#n-sl"/><rect class="b3" width="152" height="41" rx="7"/><use href="#tr" transform="translate(170 22)"/><circle class="h" cx="371" cy="24" r="6"/><text class="v" x="327" y="19">3.000</text><text class="l" x="75" y="20">Domain start</text></g>
<g id="s1-r-end" transform="translate(377 578)"><use href="#n-sl"/><rect class="b3" width="145" height="41" rx="7"/><use href="#tr" transform="translate(166 22)"/><circle class="h" cx="199" cy="24" r="6"/><text class="v" x="242" y="19">0.500</text><text class="l" x="72" y="20">Domain end</text></g>
<g id="s1-r-dom" transform="translate(837 528)"><use href="#n-dom"/><text class="t" transform="translate(61.5 45) rotate(-90)">Dom</text><text class="q" x="20" y="25">A</text><text class="q" x="20" y="65">B</text><text class="q" x="97" y="45">I</text></g>
<g id="s1-line1" transform="translate(1427 493)"><use href="#n-line"/><text class="t" transform="translate(63.5 64.5) rotate(-90)">Line</text><text class="q" x="24" y="23">S</text><text class="q" x="24" y="65">D</text><text class="q" x="24" y="105">L</text><text class="q" x="102" y="64">L</text></g>
<g id="s1-end" transform="translate(1601 443)"><use href="#n-end"/><text class="t" transform="translate(62 44.5) rotate(-90)">End</text><text class="q" x="20" y="44">C</text><text class="q" x="100" y="24">S</text><text class="q" x="100" y="64">E</text></g>
<g id="s1-line2" transform="translate(1816 335)"><use href="#n-line"/><text class="t" transform="translate(63.5 64.5) rotate(-90)">Line</text><text class="q" x="24" y="23">S</text><text class="q" x="24" y="65">D</text><text class="q" x="24" y="105">L</text><text class="q" x="102" y="64">L</text></g>
<g id="s1-vec1" transform="translate(1979 383)"><use href="#n-p"/><text class="l" x="50" y="20">Vec</text></g>
<g id="s1-geo2" transform="translate(1821 523)"><use href="#n-p"/><text class="l" x="50" y="20">Geo</text></g>
<g id="s1-vec2" transform="translate(1609 577)"><use href="#n-p"/><text class="l" x="50" y="20">Vec</text></g>
<g id="s1-add" transform="translate(2179 531)"><use href="#n-m"/><text class="t" transform="translate(62 44.5) rotate(-90)">A+B</text><text class="q" x="20" y="24">A</text><text class="q" x="20" y="64">B</text><text class="q" x="100" y="44">R</text></g>
<g id="s1-line3" transform="translate(2351 471)"><use href="#n-line"/><text class="t" transform="translate(63.5 64.5) rotate(-90)">Line</text><text class="q" x="24" y="23">S</text><text class="q" x="24" y="65">D</text><text class="q" x="24" y="105">L</text><text class="q" x="102" y="64">L</text></g>
</g>

<g id="section-2" transform="translate(2738 1125)">
<g id="s2-geo" transform="translate(41 499)"><use href="#n-p"/><text class="l" x="50" y="20">Geo</text></g>
<g id="s2-g-devec" transform="translate(373 39)"><use href="#n-3"/><text class="t" transform="translate(61.5 64.5) rotate(-90)">DeVec</text><text class="q" x="20" y="64">V</text><text class="q" x="101" y="25">X</text><text class="q" x="101" y="64">Y</text><text class="q" x="101" y="105">Z</text></g>
<g id="s2-g-bnd" transform="translate(733 113)"><use href="#n-bnd"/><text class="t" transform="translate(64 40) rotate(-90)">Bnd</text><text class="q" x="21" y="40">N</text><text class="q" x="99" y="40">I</text></g>
<g id="s2-g-remap" transform="translate(1060 139)"><use href="#n-remap"/><text class="t" transform="translate(61 65) rotate(-90)">ReMap</text><text class="q" x="20" y="24">V</text><text class="q" x="20" y="64">S</text><text class="q" x="20" y="104">T</text><text class="q" x="100" y="34">R</text><text class="q" x="100" y="94">C</text></g>
<g id="s2-g-start" transform="translate(380 221)"><use href="#n-sl"/><rect class="b3" width="152" height="41" rx="7"/><use href="#tr" transform="translate(172 22)"/><circle class="h" cx="238" cy="24" r="6"/><text class="v" x="282" y="19">1.000</text><text class="l" x="76" y="20">Domain start</text></g>
<g id="s2-g-end" transform="translate(380 279)"><use href="#n-sl"/><rect class="b3" width="146" height="41" rx="7"/><use href="#tr" transform="translate(165 22)"/><circle class="h" cx="201" cy="24" r="6"/><text class="v" x="243" y="19">0.500</text><text class="l" x="73" y="20">Domain end</text></g>
<g id="s2-g-dom" transform="translate(835 199)"><use href="#n-dom"/><text class="t" transform="translate(61.5 45) rotate(-90)">Dom</text><text class="q" x="20" y="25">A</text><text class="q" x="20" y="65">B</text><text class="q" x="97" y="45">I</text></g>
<g id="s2-r-devec" transform="translate(375 379)"><use href="#n-3"/><text class="t" transform="translate(61.5 64.5) rotate(-90)">DeVec</text><text class="q" x="20" y="64">V</text><text class="q" x="101" y="25">X</text><text class="q" x="101" y="64">Y</text><text class="q" x="101" y="105">Z</text></g>
<g id="s2-r-bnd" transform="translate(735 404)"><use href="#n-bnd"/><text class="t" transform="translate(64 40) rotate(-90)">Bnd</text><text class="q" x="21" y="40">N</text><text class="q" x="99" y="40">I</text></g>
<g id="s2-r-remap" transform="translate(1061 379)"><use href="#n-remap"/><text class="t" transform="translate(61 65) rotate(-90)">ReMap</text><text class="q" x="20" y="24">V</text><text class="q" x="20" y="64">S</text><text class="q" x="20" y="104">T</text><text class="q" x="100" y="34">R</text><text class="q" x="100" y="94">C</text></g>
<g id="s2-r-start" transform="translate(379 526)"><use href="#n-sl"/><rect class="b3" width="152" height="41" rx="7"/><use href="#tr" transform="translate(170 22)"/><circle class="h" cx="371" cy="24" r="6"/><text class="v" x="327" y="19">3.000</text><text class="l" x="75" y="20">Domain start</text></g>
<g id="s2-r-end" transform="translate(377 578)"><use href="#n-sl"/><rect class="b3" width="145" height="41" rx="7"/><use href="#tr" transform="translate(166 22)"/><circle class="h" cx="199" cy="24" r="6"/><text class="v" x="242" y="19">0.500</text><text class="l" x="72" y="20">Domain end</text></g>
<g id="s2-r-dom" transform="translate(837 528)"><use href="#n-dom"/><text class="t" transform="translate(61.5 45) rotate(-90)">Dom</text><text class="q" x="20" y="25">A</text><text class="q" x="20" y="65">B</text><text class="q" x="97" y="45">I</text></g>
<g id="s2-line1" transform="translate(1427 493)"><use href="#n-line"/><text class="t" transform="translate(63.5 64.5) rotate(-90)">Line</text><text class="q" x="24" y="23">S</text><text class="q" x="24" y="65">D</text><text class="q" x="24" y="105">L</text><text class="q" x="102" y="64">L</text></g>
<g id="s2-end" transform="translate(1601 443)"><use href="#n-end"/><text class="t" transform="translate(62 44.5) rotate(-90)">End</text><text class="q" x="20" y="44">C</text><text class="q" x="100" y="24">S</text><text class="q" x="100" y="64">E</text></g>
<g id="s2-line2" transform="translate(1816 335)"><use href="#n-line"/><text class="t" transform="translate(63.5 64.5) rotate(-90)">Line</text><text class="q" x="24" y="23">S</text><text class="q" x="24" y="65">D</text><text class="q" x="24" y="105">L</text><text class="q" x="102" y="64">L</text></g>
<g id="s2-vec1" transform="translate(1979 383)"><use href="#n-p"/><text class="l" x="50" y="20">Vec</text></g>
<g id="s2-geo2" transform="translate(1821 523)"><use href="#n-p"/><text class="l" x="50" y="20">Geo</text></g>
<g id="s2-vec2" transform="translate(1609 577)"><use href="#n-p"/><text class="l" x="50" y="20">Vec</text></g>
<g id="s2-add" transform="translate(2179 531)"><use href="#n-m"/><text class="t" transform="translate(62 44.5) rotate(-90)">A+B</text><text class="q" x="20" y="24">A</text><text class="q" x="20" y="64">B</text><text class="q" x="100" y="44">R</text></g>
<g id="s2-line3" transform="translate(2351 471)"><use href="#n-line"/><text class="t" transform="translate(63.5 64.5) rotate(-90)">Line</text><text class="q" x="24" y="23">S</text><text class="q" x="24" y="65">D</text><text class="q" x="24" y="105">L</text><text class="q" x="102" y="64">L</text></g>
</g>

<g id="section-3" transform="translate(2736 1802)">
<g id="s3-geo" transform="translate(41 499)"><use href="#n-p"/><text class="l" x="50" y="20">Geo</text></g>
<g id="s3-g-devec" transform="translate(373 39)"><use href="#n-3"/><text class="t" transform="translate(61.5 64.5) rotate(-90)">DeVec</text><text class="q" x="20" y="64">V</text><text class="q" x="101" y="25">X</text><text class="q" x="101" y="64">Y</text><text class="q" x="101" y="105">Z</text></g>
<g id="s3-g-bnd" transform="translate(733 113)"><use href="#n-bnd"/><text class="t" transform="translate(64 40) rotate(-90)">Bnd</text><text class="q" x="21" y="40">N</text><text class="q" x="99" y="40">I</text></g>
<g id="s3-g-remap" transform="translate(1060 139)"><use href="#n-remap"/><text class="t" transform="translate(61 65) rotate(-90)">ReMap</text><text class="q" x="20" y="24">V</text><text class="q" x="20" y="64">S</text><text class="q" x="20" y="104">T</text><text class="q" x="100" y="34">R</text><text class="q" x="100" y="94">C</text></g>
<g id="s3-g-start" transform="translate(380 221)"><use href="#n-sl"/><rect class="b3" width="152" height="41" rx="7"/><use href="#tr" transform="translate(172 22)"/><circle class="h" cx="238" cy="24" r="6"/><text class="v" x="282" y="19">1.000</text><text class="l" x="76" y="20">Domain start</text></g>
<g id="s3-g-end" transform="translate(380 279)"><use href="#n-sl"/><rect class="b3" width="146" height="41" rx="7"/><use href="#tr" transform="translate(165 22)"/><circle class="h" cx="201" cy="24" r="6"/><text class="v" x="243" y="19">0.500</text><text class="l" x="73" y="20">Domain end</text></g>
<g id="s3-g-dom" transform="translate(835 199)"><use href="#n-dom"/><text class="t" transform="translate(61.5 45) rotate(-90)">Dom</text><text class="q" x="20" y="25">A</text><text class="q" x="20" y="65">B</text><text class="q" x="97" y="45">I</text></g>
<g id="s3-r-devec" transform="translate(375 379)"><use href="#n-3"/><text class="t" transform="translate(61.5 64.5) rotate(-90)">DeVec</text><text class="q" x="20" y="64">V</text><text class="q" x="101" y="25">X</text><text class="q" x="101" y="64">Y</text><text class="q" x="101" y="105">Z</text></g>
<g id="s3-r-bnd" transform="translate(735 404)"><use href="#n-bnd"/><text class="t" transform="translate(64 40) rotate(-90)">Bnd</text><text class="q" x="21" y="40">N</text><text class="q" x="99" y="40">I</text></g>
<g id="s3-r-remap" transform="translate(1061 379)"><use href="#n-remap"/><text class="t" transform="translate(61 65) rotate(-90)">ReMap</text><text class="q" x="20" y="24">V</text><text class="q" x="20" y="64">S</text><text class="q" x="20" y="104">T</text><text class="q" x="100" y="34">R</text><text class="q" x="100" y="94">C</text></g>
<g id="s3-r-start" transform="translate(379 526)"><use href="#n-sl"/><rect class="b3" width="152" height="41" rx="7"/><use href="#tr" transform="translate(170 22)"/><circle class="h" cx="371" cy="24" r="6"/><text class="v" x="327" y="19">3.000</text><text class="l" x="75" y="20">Domain start</text></g>
<g id="s3-r-end" transform="translate(377 578)"><use href="#n-sl"/><rect class="b3" width="145" height="41" rx="7"/><use href="#tr" transform="translate(166 22)"/><circle class="h" cx="199" cy="24" r="6"/><text class="v" x="242" y="19">0.500</text><text class="l" x="72" y="20">Domain end</text></g>
<g id="s3-r-dom" transform="translate(837 528)"><use href="#n-dom"/><text class="t" transform="translate(61.5 45) rotate(-90)">Dom</text><text class="q" x="20" y="25">A</text><text class="q" x="20" y="65">B</text><text class="q" x="97" y="45">I</text></g>
<g id="s3-line1" transform="translate(1427 493)"><use href="#n-line"/><text class="t" transform="translate(63.5 64.5) rotate(-90)">Line</text><text class="q" x="24" y="23">S</text><text class="q" x="24" y="65">D</text><text class="q" x="24" y="105">L</text><text class="q" x="102" y="64">L</text></g>
<g id="s3-end" transform="translate(1601 443)"><use href="#n-end"/><text class="t" transform="translate(62 44.5) rotate(-90)">End</text><text class="q" x="20" y="44">C</text><text class="q" x="100" y="24">S</text><text class="q" x="100" y="64">E</text></g>
<g id="s3-line2" transform="translate(1816 335)"><use href="#n-line"/><text class="t" transform="translate(63.5 64.5) rotate(-90)">Line</text><text class="q" x="24" y="23">S</text><text class="q" x="24" y="65">D</text><text class="q" x="24" y="105">L</text><text class="q" x="102" y="64">L</text></g>
<g id="s3-vec1" transform="translate(1979 383)"><use href="#n-p"/><text class="l" x="50" y="20">Vec</text></g>
<g id="s3-geo2" transform="translate(1821 523)"><use href="#n-p"/><text class="l" x="50" y="20">Geo</text></g>
<g id="s3-vec2" transform="translate(1609 577)"><use href="#n-p"/><text class="l" x="50" y="20">Vec</text></g>
<g id="s3-add" transform="translate(2179 531)"><use href="#n-m"/><text class="t" transform="translate(62 44.5) rotate(-90)">A+B</text><text class="q" x="20" y="24">A</text><text class="q" x="20" y="64">B</text><text class="q" x="100" y="44">R</text></g>
<g id="s3-line3" transform="translate(2351 471)"><use href="#n-line"/><text class="t" transform="translate(63.5 64.5) rotate(-90)">Line</text><text class="q" x="24" y="23">S</text><text class="q" x="24" y="65">D</text><text class="q" x="24" y="105">L</text><text class="q" x="102" y="64">L</text></g>
</g>

<g id="section-4" transform="translate(2737 2482)">
<g id="s4-geo" transform="translate(41 499)"><use href="#n-p"/><text class="l" x="50" y="20">Geo</text></g>
<g id="s4-g-devec" transform="translate(373 39)"><use href="#n-3"/><text class="t" transform="translate(61.5 64.5) rotate(-90)">DeVec</text><text class="q" x="20" y="64">V</text><text class="q" x="101" y="25">X</text><text class="q" x="101" y="64">Y</text><text class="q" x="101" y="105">Z</text></g>
<g id="s4-g-bnd" transform="translate(733 113)"><use href="#n-bnd"/><text class="t" transform="translate(64 40) rotate(-90)">Bnd</text><text class="q" x="21" y="40">N</text><text class="q" x="99" y="40">I</text></g>
<g id="s4-g-remap" transform="translate(1060 139)"><use href="#n-remap"/><text class="t" transform="translate(61 65) rotate(-90)">ReMap</text><text class="q" x="20" y="24">V</text><text class="q" x="20" y="64">S</text><text class="q" x="20" y="104">T</text><text class="q" x="100" y="34">R</text><text class="q" x="100" y="94">C</text></g>
<g id="s4-g-start" transform="translate(380 221)"><use href="#n-sl"/><rect class="b3" width="152" height="41" rx="7"/><use href="#tr" transform="translate(172 22)"/><circle class="h" cx="238" cy="24" r="6"/><text class="v" x="282" y="19">1.000</text><text class="l" x="76" y="20">Domain start</text></g>
<g id="s4-g-end" transform="translate(380 279)"><use href="#n-sl"/><rect class="b3" width="146" height="41" rx="7"/><use href="#tr" transform="translate(165 22)"/><circle class="h" cx="201" cy="24" r="6"/><text class="v" x="243" y="19">0.500</text><text class="l" x="73" y="20">Domain end</text></g>
<g id="s4-g-dom" transform="translate(835 199)"><use href="#n-dom"/><text class="t" transform="translate(61.5 45) rotate(-90)">Dom</text><text class="q" x="20" y="25">A</text><text class="q" x="20" y="65">B</text><text class="q" x="97" y="45">I</text></g>
<g id="s4-r-devec" transform="translate(375 379)"><use href="#n-3"/><text class="t" transform="translate(61.5 64.5) rotate(-90)">DeVec</text><text class="q" x="20" y="64">V</text><text class="q" x="101" y="25">X</text><text class="q" x="101" y="64">Y</text><text class="q" x="101" y="105">Z</text></g>
<g id="s4-r-bnd" transform="translate(735 404)"><use href="#n-bnd"/><text class="t" transform="translate(64 40) rotate(-90)">Bnd</text><text class="q" x="21" y="40">N</text><text class="q" x="99" y="40">I</text></g>
<g id="s4-r-remap" transform="translate(1061 379)"><use href="#n-remap"/><text class="t" transform="translate(61 65) rotate(-90)">ReMap</text><text class="q" x="20" y="24">V</text><text class="q" x="20" y="64">S</text><text class="q" x="20" y="104">T</text><text class="q" x="100" y="34">R</text><text class="q" x="100" y="94">C</text></g>
<g id="s4-r-start" transform="translate(379 526)"><use href="#n-sl"/><rect class="b3" width="152" height="41" rx="7"/><use href="#tr" transform="translate(170 22)"/><circle class="h" cx="371" cy="24" r="6"/><text class="v" x="327" y="19">3.000</text><text class="l" x="75" y="20">Domain start</text></g>
<g id="s4-r-end" transform="translate(377 578)"><use href="#n-sl"/><rect class="b3" width="145" height="41" rx="7"/><use href="#tr" transform="translate(166 22)"/><circle class="h" cx="199" cy="24" r="6"/><text class="v" x="242" y="19">0.500</text><text class="l" x="72" y="20">Domain end</text></g>
<g id="s4-r-dom" transform="translate(837 528)"><use href="#n-dom"/><text class="t" transform="translate(61.5 45) rotate(-90)">Dom</text><text class="q" x="20" y="25">A</text><text class="q" x="20" y="65">B</text><text class="q" x="97" y="45">I</text></g>
<g id="s4-line1" transform="translate(1427 493)"><use href="#n-line"/><text class="t" transform="translate(63.5 64.5) rotate(-90)">Line</text><text class="q" x="24" y="23">S</text><text class="q" x="24" y="65">D</text><text class="q" x="24" y="105">L</text><text class="q" x="102" y="64">L</text></g>
<g id="s4-end" transform="translate(1601 443)"><use href="#n-end"/><text class="t" transform="translate(62 44.5) rotate(-90)">End</text><text class="q" x="20" y="44">C</text><text class="q" x="100" y="24">S</text><text class="q" x="100" y="64">E</text></g>
<g id="s4-line2" transform="translate(1816 335)"><use href="#n-line"/><text class="t" transform="translate(63.5 64.5) rotate(-90)">Line</text><text class="q" x="24" y="23">S</text><text class="q" x="24" y="65">D</text><text class="q" x="24" y="105">L</text><text class="q" x="102" y="64">L</text></g>
<g id="s4-vec1" transform="translate(1979 383)"><use href="#n-p"/><text class="l" x="50" y="20">Vec</text></g>
<g id="s4-geo2" transform="translate(1821 523)"><use href="#n-p"/><text class="l" x="50" y="20">Geo</text></g>
<g id="s4-vec2" transform="translate(1609 577)"><use href="#n-p"/><text class="l" x="50" y="20">Vec</text></g>
<g id="s4-add" transform="translate(2179 531)"><use href="#n-m"/><text class="t" transform="translate(62 44.5) rotate(-90)">A+B</text><text class="q" x="20" y="24">A</text><text class="q" x="20" y="64">B</text><text class="q" x="100" y="44">R</text></g>
<g id="s4-line3" transform="translate(2351 471)"><use href="#n-line"/><text class="t" transform="translate(63.5 64.5) rotate(-90)">Line</text><text class="q" x="24" y="23">S</text><text class="q" x="24" y="65">D</text><text class="q" x="24" y="105">L</text><text class="q" x="102" y="64">L</text></g>
</g>

<g id="p-geo-out" transform="translate(5648 1860)"><use href="#n-p"/><text class="l" x="50" y="20">Geo</text></g>
<g id="c-null-r" transform="translate(5833 1939)"><use href="#n-null"/><text class="t" transform="translate(54 64) rotate(-90)">Null</text><text class="q" x="16" y="64">I</text><text class="q" x="94" y="24">N</text><text class="q" x="94" y="64">X</text><text class="q" x="94" y="104">D</text></g>
<g id="p-bool-r" transform="translate(6004 1989)"><use href="#n-bool"/><text class="l" x="86" y="20">Bool</text></g>
<g id="c-cull-r" transform="translate(6181 1859)"><use href="#n-cull"/><text class="t" transform="translate(59 44) rotate(-90)">Cull</text><text class="q" x="20" y="24">L</text><text class="q" x="20" y="64">P</text><text class="q" x="97" y="44">L</text></g>
<g id="c-len" transform="translate(6297 1516)"><circle class="p" cy="37" r="7"/><circle class="p" cx="126" cy="37" r="7"/><rect class="bw" width="126" height="74" rx="7"/><rect class="c" x="38" y="4" width="48" height="66" rx="8"/><text class="t" transform="translate(62 37) rotate(-90)">Len</text><text class="q" x="20" y="37">C</text><text class="q" x="100" y="37">L</text></g>
<g id="c-ma" transform="translate(6465 1508)"><circle class="p" cy="45" r="7"/><circle class="p" cx="128" cy="25" r="7"/><circle class="p" cx="128" cy="65" r="7"/><rect class="bw" width="128" height="88" rx="7"/><rect class="c" x="30" y="4" width="47" height="80" rx="8"/><text class="t" transform="translate(54 44) rotate(-90)">MA</text><text class="q" x="16" y="45">I</text><text class="q" x="94" y="25">R</text><text class="q" x="97" y="65">Pr</text></g>
<g id="s-radius" transform="translate(6303 2097)"><circle class="p" cx="338" cy="20" r="7"/><rect class="sl" width="338" height="40" rx="7"/><rect class="b3" width="90" height="40" rx="7"/><use href="#tr" transform="translate(108 21) scale(1.05 1)"/><circle class="h" cx="112" cy="23" r="6"/><text class="v" x="156" y="18">0.015</text><text class="l" x="45" y="20">Radius</text></g>
<g id="p-swatch1" transform="translate(6568 1774)"><circle class="p" cx="176" cy="21" r="7"/><rect class="b3" width="176" height="41" rx="7"/><rect x="97" y="1" width="78" height="39" rx="5" fill="url(#gG)"/><path d="M97 0V41" stroke="#333" stroke-width="2"/><text class="l" x="47" y="20">Swatch</text></g>
<g id="p-swatch2" transform="translate(6561 1982)"><circle class="p" cx="176" cy="20" r="7"/><rect class="b3" width="176" height="41" rx="7"/><rect x="95" y="1" width="80" height="39" rx="5" fill="url(#chk)"/><path d="M95 0V41" stroke="#333" stroke-width="2"/><text class="l" x="47" y="20">Swatch</text></g>
<g id="c-pipe" transform="translate(6771 1914)"><circle class="p" cy="24" r="7"/><circle class="p" cy="64" r="7"/><circle class="p" cy="104" r="7"/><circle class="p" cx="160" cy="64" r="7"/><rect class="b1" width="160" height="129" rx="7"/><rect class="c" x="38" y="5" width="48" height="120" rx="8"/><use href="#i-dn" x="126" y="50"/><text class="t" transform="translate(62 65) rotate(-90)">Pipe</text><text class="q" x="21" y="24">C</text><text class="q" x="21" y="64">R</text><text class="q" x="21" y="104">E</text><text class="q" x="100" y="64">P</text></g>
<g id="c-preview-o" transform="translate(6984 1738)"><circle class="p" cy="34" r="7"/><circle class="p" cy="95" r="7"/><path d="M8 0H92l9 8-7 8 7 8-7 8 7 8-7 8 7 8-7 8 7 8-7 8 7 8-7 8 7 8-7 8 7 8-7 8-2 3H8a8 8 0 0 1-8-8V8a8 8 0 0 1 8-8z" fill="url(#gO)" stroke="#5a1a00" stroke-width="2.6"/><rect class="c" x="40" y="4" width="49" height="123" rx="8"/><text class="t" transform="translate(64.5 66) rotate(-90)">Preview</text><text class="q" x="22" y="34">G</text><text class="q" x="22" y="95">S</text></g>
<g id="c-preview-w" transform="translate(6984 1894)"><circle class="p" cy="34" r="7"/><circle class="p" cy="95" r="7"/><path d="M8 0H92l9 8-7 8 7 8-7 8 7 8-7 8 7 8-7 8 7 8-7 8 7 8-7 8 7 8-7 8 7 8-7 8-2 3H8a8 8 0 0 1-8-8V8a8 8 0 0 1 8-8z" fill="url(#gWm)" stroke="#444" stroke-width="2.6"/><rect class="c" x="40" y="4" width="49" height="123" rx="8"/><text class="t" transform="translate(64.5 66) rotate(-90)">Preview</text><text class="q" x="22" y="34">G</text><text class="q" x="22" y="95">S</text></g>

</g>
</svg>
